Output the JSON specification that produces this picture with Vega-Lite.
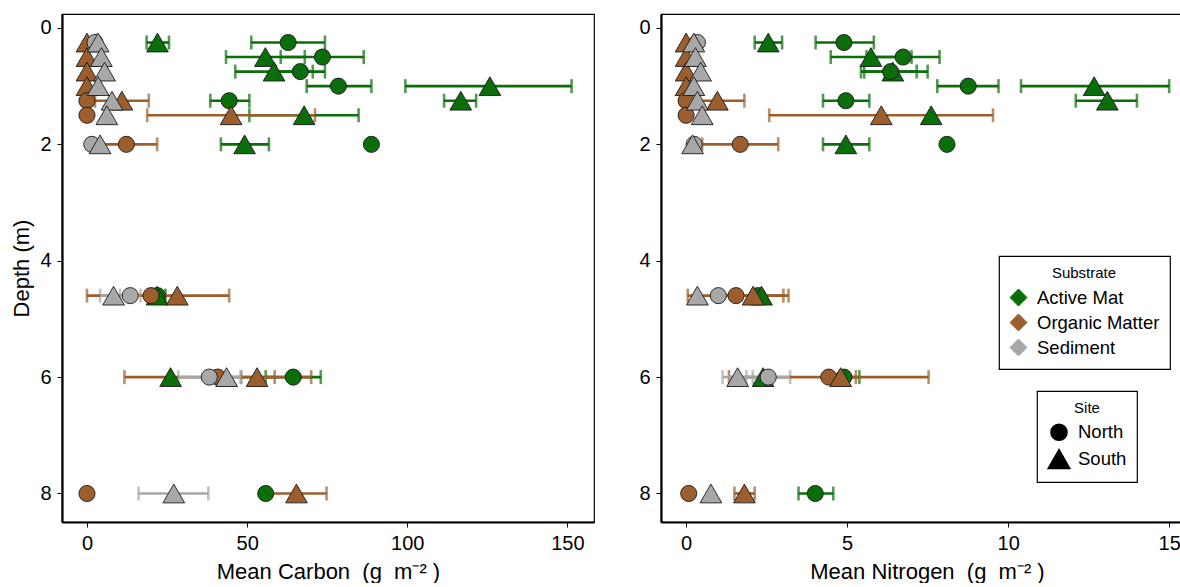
{
  "$schema": "https://vega.github.io/schema/vega-lite/v6.json",
  "padding": {"left": 10, "top": 13, "right": 0, "bottom": 0},
  "background": "white",
  "config": {
    "font": "Liberation Sans",
    "view": {"stroke": "black", "strokeWidth": 1.2},
    "axis": {"grid": false, "domainColor": "black", "domainWidth": 2.2, "tickColor": "black", "tickWidth": 1, "tickSize": 5, "labelColor": "black", "labelFontSize": 20, "labelPadding": 6, "titleFontSize": 22, "titleFontWeight": "normal", "titleColor": "black"},
    "legend": {"titleFontWeight": "normal", "titleFontSize": 15, "titleColor": "black", "labelFontSize": 18.5, "labelColor": "black", "labelOffset": 9, "strokeColor": "black", "strokeWidth": 1.2, "fillColor": "white", "padding": 10, "titleAnchor": "middle", "titlePadding": 7, "rowPadding": 2, "symbolOpacity": 1}
  },
  "data": {"values": [
    {"d": 0.25, "s": "Active Mat", "site": "South", "C": 22, "Cl": 18.6, "Ch": 25.6, "N": 2.55, "Nl": 2.13, "Nh": 2.98},
    {"d": 0.25, "s": "Active Mat", "site": "North", "C": 62.8, "Cl": 51.3, "Ch": 74.3, "N": 4.9, "Nl": 4.02, "Nh": 5.83},
    {"d": 0.5, "s": "Active Mat", "site": "South", "C": 55.7, "Cl": 43.4, "Ch": 68, "N": 5.74, "Nl": 4.49, "Nh": 7.0},
    {"d": 0.5, "s": "Active Mat", "site": "North", "C": 73.5, "Cl": 60.5, "Ch": 86.4, "N": 6.74, "Nl": 5.6, "Nh": 7.87},
    {"d": 0.75, "s": "Active Mat", "site": "South", "C": 58.4, "Cl": 46.3, "Ch": 70.5, "N": 6.42, "Nl": 5.43, "Nh": 7.5},
    {"d": 0.75, "s": "Active Mat", "site": "North", "C": 66.6, "Cl": 58.9, "Ch": 74.3, "N": 6.35, "Nl": 5.53, "Nh": 7.16},
    {"d": 1.0, "s": "Active Mat", "site": "North", "C": 78.5, "Cl": 68.6, "Ch": 88.8, "N": 8.76, "Nl": 7.8, "Nh": 9.7},
    {"d": 1.0, "s": "Active Mat", "site": "South", "C": 125.8, "Cl": 99.4, "Ch": 151.3, "N": 12.67, "Nl": 10.4, "Nh": 15.0},
    {"d": 1.25, "s": "Active Mat", "site": "North", "C": 44.4, "Cl": 38.5, "Ch": 50.7, "N": 4.96, "Nl": 4.25, "Nh": 5.69},
    {"d": 1.25, "s": "Active Mat", "site": "South", "C": 116.7, "Cl": 111.5, "Ch": 121.5, "N": 13.08, "Nl": 12.1, "Nh": 14.0},
    {"d": 1.5, "s": "Active Mat", "site": "South", "C": 67.8, "Cl": 50.7, "Ch": 84.8, "N": 7.61, "Nl": null, "Nh": null},
    {"d": 2, "s": "Active Mat", "site": "North", "C": 88.8, "Cl": 87.9, "Ch": 89.7, "N": 8.1, "Nl": 8.0, "Nh": 8.2},
    {"d": 2, "s": "Active Mat", "site": "South", "C": 49.2, "Cl": 41.8, "Ch": 56.8, "N": 4.96, "Nl": 4.25, "Nh": 5.69},
    {"d": 4.6, "s": "Active Mat", "site": "North", "C": 22, "Cl": null, "Ch": null, "N": 2.23, "Nl": null, "Nh": null},
    {"d": 4.6, "s": "Active Mat", "site": "South", "C": 21.9, "Cl": 19.3, "Ch": 24.5, "N": 2.34, "Nl": null, "Nh": null},
    {"d": 6, "s": "Active Mat", "site": "South", "C": 26.1, "Cl": null, "Ch": null, "N": 2.39, "Nl": null, "Nh": null},
    {"d": 6, "s": "Active Mat", "site": "North", "C": 64.4, "Cl": 55.8, "Ch": 73, "N": 4.9, "Nl": 4.42, "Nh": 5.38},
    {"d": 8, "s": "Active Mat", "site": "North", "C": 55.8, "Cl": null, "Ch": null, "N": 4.01, "Nl": 3.49, "Nh": 4.57},
    {"d": 0.25, "s": "Organic Matter", "site": "South", "C": 0, "Cl": null, "Ch": null, "N": 0, "Nl": null, "Nh": null},
    {"d": 0.5, "s": "Organic Matter", "site": "South", "C": 0, "Cl": null, "Ch": null, "N": 0, "Nl": null, "Nh": null},
    {"d": 0.75, "s": "Organic Matter", "site": "South", "C": 0, "Cl": null, "Ch": null, "N": 0, "Nl": null, "Nh": null},
    {"d": 1.0, "s": "Organic Matter", "site": "South", "C": 0, "Cl": null, "Ch": null, "N": 0, "Nl": null, "Nh": null},
    {"d": 1.25, "s": "Organic Matter", "site": "North", "C": 0, "Cl": null, "Ch": null, "N": 0, "Nl": null, "Nh": null},
    {"d": 1.25, "s": "Organic Matter", "site": "South", "C": 10.9, "Cl": 2.5, "Ch": 19.3, "N": 0.97, "Nl": 0.13, "Nh": 1.81},
    {"d": 1.5, "s": "Organic Matter", "site": "North", "C": 0, "Cl": null, "Ch": null, "N": 0, "Nl": null, "Nh": null},
    {"d": 1.5, "s": "Organic Matter", "site": "South", "C": 45, "Cl": 18.8, "Ch": 71.2, "N": 6.06, "Nl": 2.58, "Nh": 9.53},
    {"d": 2, "s": "Organic Matter", "site": "North", "C": 12.3, "Cl": 2.7, "Ch": 21.9, "N": 1.68, "Nl": 0.5, "Nh": 2.86},
    {"d": 4.6, "s": "Organic Matter", "site": "North", "C": 20, "Cl": null, "Ch": null, "N": 1.55, "Nl": 0.05, "Nh": 3.02},
    {"d": 4.6, "s": "Organic Matter", "site": "South", "C": 28.2, "Cl": 0, "Ch": 44.4, "N": 2.08, "Nl": 0.98, "Nh": 3.18},
    {"d": 6, "s": "Organic Matter", "site": "North", "C": 40.8, "Cl": 11.7, "Ch": 70, "N": 4.43, "Nl": 1.33, "Nh": 7.53},
    {"d": 6, "s": "Organic Matter", "site": "South", "C": 53.1, "Cl": 48.1, "Ch": 58.6, "N": 4.8, "Nl": 4.33, "Nh": 5.27},
    {"d": 8, "s": "Organic Matter", "site": "North", "C": 0, "Cl": null, "Ch": null, "N": 0.08, "Nl": null, "Nh": null},
    {"d": 8, "s": "Organic Matter", "site": "South", "C": 65.4, "Cl": 56, "Ch": 74.8, "N": 1.81, "Nl": 1.5, "Nh": 2.13},
    {"d": 0.25, "s": "Sediment", "site": "North", "C": 2.5, "Cl": null, "Ch": null, "N": 0.35, "Nl": null, "Nh": null},
    {"d": 0.25, "s": "Sediment", "site": "South", "C": 3.5, "Cl": null, "Ch": null, "N": 0.24, "Nl": null, "Nh": null},
    {"d": 0.5, "s": "Sediment", "site": "South", "C": 4.5, "Cl": null, "Ch": null, "N": 0.29, "Nl": null, "Nh": null},
    {"d": 0.75, "s": "Sediment", "site": "South", "C": 5.5, "Cl": null, "Ch": null, "N": 0.45, "Nl": null, "Nh": null},
    {"d": 1.0, "s": "Sediment", "site": "South", "C": 3.5, "Cl": null, "Ch": null, "N": 0.24, "Nl": null, "Nh": null},
    {"d": 1.25, "s": "Sediment", "site": "South", "C": 7.8, "Cl": null, "Ch": null, "N": 0.35, "Nl": null, "Nh": null},
    {"d": 1.5, "s": "Sediment", "site": "South", "C": 6.2, "Cl": null, "Ch": null, "N": 0.5, "Nl": null, "Nh": null},
    {"d": 2, "s": "Sediment", "site": "North", "C": 1.5, "Cl": null, "Ch": null, "N": 0.25, "Nl": null, "Nh": null},
    {"d": 2, "s": "Sediment", "site": "South", "C": 4.1, "Cl": null, "Ch": null, "N": 0.2, "Nl": null, "Nh": null},
    {"d": 4.6, "s": "Sediment", "site": "South", "C": 8.3, "Cl": 4.1, "Ch": 12.5, "N": 0.35, "Nl": null, "Nh": null},
    {"d": 4.6, "s": "Sediment", "site": "North", "C": 13.5, "Cl": 10.3, "Ch": 16.7, "N": 1.0, "Nl": null, "Nh": null},
    {"d": 6, "s": "Sediment", "site": "North", "C": 38.2, "Cl": 28.5, "Ch": 48, "N": 2.55, "Nl": 1.87, "Nh": 3.23},
    {"d": 6, "s": "Sediment", "site": "South", "C": 43.6, "Cl": 39, "Ch": 48.2, "N": 1.6, "Nl": 1.13, "Nh": 2.07},
    {"d": 8, "s": "Sediment", "site": "South", "C": 27.1, "Cl": 16.1, "Ch": 37.9, "N": 0.77, "Nl": null, "Nh": null}
  ]},
  "spacing": 43,
  "resolve": {"legend": {"color": "independent", "shape": "independent", "size": "independent"}},
  "hconcat": [
    {
      "width": 532, "height": 508,
      "layer": [
        {
          "transform": [{"filter": "datum.Cl != null"}],
          "mark": {"type": "errorbar", "ticks": {"size": 14}, "thickness": 2.6},
          "encoding": {
            "y": {"field": "d", "type": "quantitative", "scale": {"domain": [-0.24, 8.49], "reverse": true, "nice": false, "zero": false}, "axis": {"values": [0, 2, 4, 6, 8], "format": "d", "title": "Depth (m)", "titlePadding": 6}},
            "x": {"field": "Cl", "type": "quantitative", "scale": {"domain": [-7.8, 158.3], "nice": false, "zero": false}, "axis": {"values": [0, 50, 100, 150], "title": "Mean Carbon\u00a0\u00a0(g\u00a0\u00a0m⁻²\u00a0)", "titlePadding": 8}},
            "x2": {"field": "Ch"},
            "color": {"field": "s", "type": "nominal", "scale": {"domain": ["Active Mat", "Organic Matter", "Sediment"], "range": ["#0a6e0a", "#9c5e2c", "#a8a8a8"]}, "legend": null}
          }
        },
        {
          "mark": {"type": "point", "filled": true, "opacity": 1, "stroke": "#1a1a1a", "strokeWidth": 0.9},
          "encoding": {
            "y": {"field": "d", "type": "quantitative"},
            "x": {"field": "C", "type": "quantitative"},
            "color": {"field": "s", "type": "nominal", "scale": {"domain": ["Active Mat", "Organic Matter", "Sediment"], "range": ["#006400", "#9c5e2c", "#a5a5a5"]}, "legend": null},
            "shape": {"field": "site", "type": "nominal", "scale": {"domain": ["North", "South"], "range": ["circle", "triangle-up"]}, "legend": null},
            "size": {"field": "site", "type": "nominal", "scale": {"domain": ["North", "South"], "range": [260, 470]}, "legend": null}
          }
        }
      ]
    },
    {
      "width": 532, "height": 508,
      "layer": [
        {
          "transform": [{"filter": "datum.Nl != null"}],
          "mark": {"type": "errorbar", "ticks": {"size": 14}, "thickness": 2.6},
          "encoding": {
            "y": {"field": "d", "type": "quantitative", "scale": {"domain": [-0.24, 8.49], "reverse": true, "nice": false, "zero": false}, "axis": {"values": [0, 2, 4, 6, 8], "format": "d", "title": null}},
            "x": {"field": "Nl", "type": "quantitative", "scale": {"domain": [-0.78, 15.74], "nice": false, "zero": false}, "axis": {"values": [0, 5, 10, 15], "title": "Mean Nitrogen\u00a0\u00a0(g\u00a0\u00a0m⁻²\u00a0)", "titlePadding": 8}},
            "x2": {"field": "Nh"},
            "color": {"field": "s", "type": "nominal", "title": "Substrate", "scale": {"domain": ["Active Mat", "Organic Matter", "Sediment"], "range": ["#0a6e0a", "#9c5e2c", "#a8a8a8"]}, "legend": {"orient": "none", "legendX": 338, "legendY": 242, "symbolType": "diamond", "symbolSize": 290, "symbolStrokeColor": "#222", "symbolStrokeWidth": 1}}
          }
        },
        {
          "mark": {"type": "point", "filled": true, "opacity": 1, "stroke": "#1a1a1a", "strokeWidth": 0.9},
          "encoding": {
            "y": {"field": "d", "type": "quantitative"},
            "x": {"field": "N", "type": "quantitative"},
            "color": {"field": "s", "type": "nominal", "title": "Substrate", "scale": {"domain": ["Active Mat", "Organic Matter", "Sediment"], "range": ["#006400", "#9c5e2c", "#a5a5a5"]}, "legend": {"orient": "none", "legendX": 338, "legendY": 242, "symbolType": "diamond", "symbolSize": 290, "symbolStrokeColor": "#222", "symbolStrokeWidth": 1}},
            "shape": {"field": "site", "type": "nominal", "title": "Site", "scale": {"domain": ["North", "South"], "range": ["circle", "triangle-up"]}, "legend": {"orient": "none", "legendX": 376, "legendY": 377, "symbolFillColor": "black", "symbolStrokeColor": "black", "labelOffset": 7}},
            "size": {"field": "site", "type": "nominal", "title": "Site", "scale": {"domain": ["North", "South"], "range": [260, 470]}, "legend": {"orient": "none", "legendX": 376, "legendY": 377, "symbolFillColor": "black", "symbolStrokeColor": "black", "labelOffset": 7}}
          }
        }
      ]
    }
  ]
}
